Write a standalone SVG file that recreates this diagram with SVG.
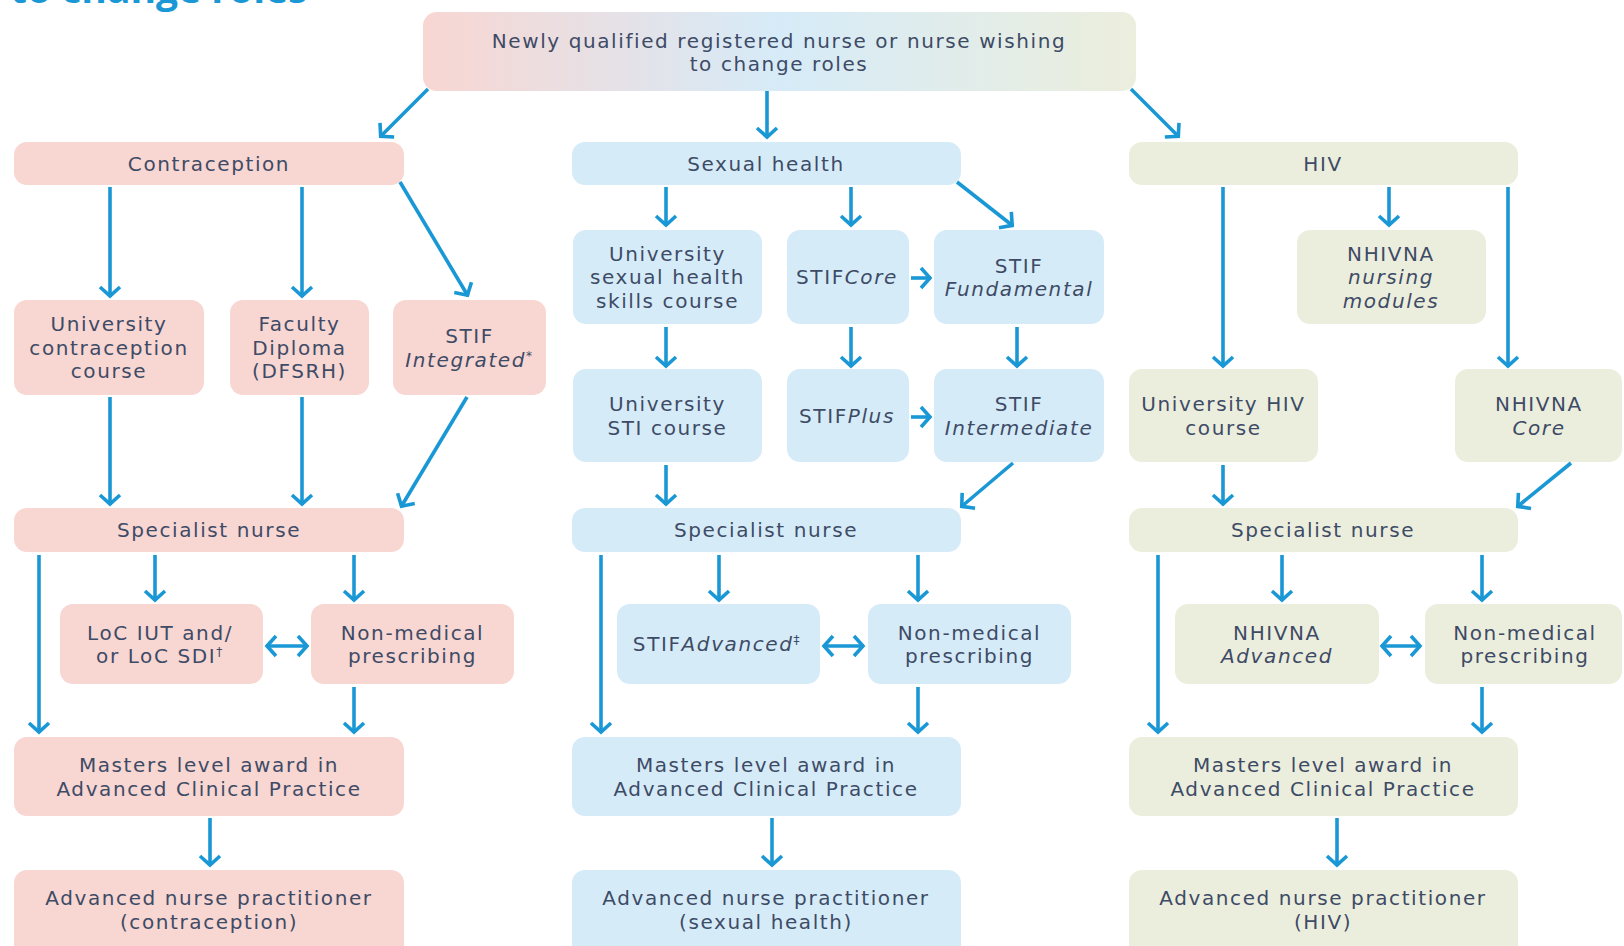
<svg xmlns="http://www.w3.org/2000/svg" width="1624" height="946" viewBox="0 0 1624 946">
<style>
.pink{fill:#f8d6d2}
.blue{fill:#d6ebf8}
.green{fill:#eceedd}
text{font-family:"DejaVu Sans","Open Sans",sans-serif;font-size:20px;letter-spacing:1.6px;fill:#3e4b66;text-anchor:middle}
.i{font-style:italic}
.title{font-family:"Open Sans","Liberation Sans",sans-serif;font-size:39px;letter-spacing:0;font-weight:bold;fill:#1a98d5;text-anchor:start}
.c line{stroke:#1a98d5;stroke-width:3.6;fill:none;marker-end:url(#ah)}
.c line.d{marker-start:url(#ah)}
</style>
<defs>
<linearGradient id="topg" x1="0" y1="0" x2="1" y2="0">
<stop offset="0" stop-color="#f8d6d2"/>
<stop offset="0.5" stop-color="#d6ebf8"/>
<stop offset="1" stop-color="#eceedd"/>
</linearGradient>
<marker id="ah" markerUnits="userSpaceOnUse" markerWidth="28" markerHeight="28" viewBox="-14 -14 28 28" refX="0" refY="0" orient="auto-start-reverse">
<path d="M-10,-10 L-1,0 L-10,10" fill="none" stroke="#1a98d5" stroke-width="3.6"/>
</marker>
</defs>
<rect width="1624" height="946" fill="#ffffff"/>
<text class="title" x="10" y="3">to change roles</text>

<g id="top"><rect x="423" y="12" width="713" height="79" rx="14" fill="url(#topg)"/>
<text x="779" y="48">Newly qualified registered nurse or nurse wishing</text><text x="779" y="71">to change roles</text></g>

<g id="contraception"><rect class="pink" x="14" y="142" width="390" height="43" rx="13"/><text x="209" y="171">Contraception</text></g>
<g id="sexualhealth"><rect class="blue" x="572" y="142" width="389" height="43" rx="13"/><text x="766" y="171">Sexual health</text></g>
<g id="hiv"><rect class="green" x="1129" y="142" width="389" height="43" rx="13"/><text x="1323" y="171">HIV</text></g>

<g id="univcontr"><rect class="pink" x="14" y="300" width="190" height="95" rx="13"/><text x="109" y="331">University</text><text x="109" y="354.5">contraception</text><text x="109" y="378">course</text></g>
<g id="faculty"><rect class="pink" x="230" y="300" width="139" height="95" rx="13"/><text x="299.5" y="331">Faculty</text><text x="299.5" y="354.5">Diploma</text><text x="299.5" y="378">(DFSRH)</text></g>
<g id="stifint"><rect class="pink" x="393" y="300" width="153" height="95" rx="13"/><text x="469.5" y="343">STIF</text><text x="469.5" y="366.5"><tspan class="i">Integrated</tspan><tspan font-size="12" dy="-7">*</tspan></text></g>

<g id="univsh"><rect class="blue" x="573" y="230" width="189" height="94" rx="13"/><text x="667.5" y="260.5">University</text><text x="667.5" y="284">sexual health</text><text x="667.5" y="307.5">skills course</text></g>
<g id="stifcore"><rect class="blue" x="787" y="230" width="122" height="94" rx="13"/><text x="847" y="284">STIF<tspan class="i">Core</tspan></text></g>
<g id="stiffund"><rect class="blue" x="934" y="230" width="170" height="94" rx="13"/><text x="1019" y="272.5">STIF</text><text x="1019" y="296" class="i">Fundamental</text></g>
<g id="univsti"><rect class="blue" x="573" y="369" width="189" height="93" rx="13"/><text x="667.5" y="411">University</text><text x="667.5" y="434.5">STI course</text></g>
<g id="stifplus"><rect class="blue" x="787" y="369" width="122" height="93" rx="13"/><text x="847" y="423">STIF<tspan class="i">Plus</tspan></text></g>
<g id="stifinter"><rect class="blue" x="934" y="369" width="170" height="93" rx="13"/><text x="1019" y="411">STIF</text><text x="1019" y="434.5" class="i">Intermediate</text></g>

<g id="nhivnamod"><rect class="green" x="1297" y="230" width="189" height="94" rx="13"/><text x="1391" y="260.5">NHIVNA</text><text x="1391" y="284" class="i">nursing</text><text x="1391" y="307.5" class="i">modules</text></g>
<g id="univhiv"><rect class="green" x="1129" y="369" width="189" height="93" rx="13"/><text x="1223.5" y="411">University HIV</text><text x="1223.5" y="434.5">course</text></g>
<g id="nhivnacore"><rect class="green" x="1455" y="369" width="167" height="93" rx="13"/><text x="1539" y="411">NHIVNA</text><text x="1539" y="434.5" class="i">Core</text></g>

<g id="spec1"><rect class="pink" x="14" y="508" width="390" height="44" rx="13"/><text x="209" y="537">Specialist nurse</text></g>
<g id="spec2"><rect class="blue" x="572" y="508" width="389" height="44" rx="13"/><text x="766" y="537">Specialist nurse</text></g>
<g id="spec3"><rect class="green" x="1129" y="508" width="389" height="44" rx="13"/><text x="1323" y="537">Specialist nurse</text></g>

<g id="loc"><rect class="pink" x="60" y="604" width="203" height="80" rx="13"/><text x="160" y="639.5">LoC IUT and/</text><text x="160" y="663">or LoC SDI<tspan font-size="12" dy="-7">†</tspan></text></g>
<g id="nmp1"><rect class="pink" x="311" y="604" width="203" height="80" rx="13"/><text x="412.5" y="639.5">Non-medical</text><text x="412.5" y="663">prescribing</text></g>
<g id="stifadv"><rect class="blue" x="617" y="604" width="203" height="80" rx="13"/><text x="717" y="651">STIF<tspan class="i">Advanced</tspan><tspan font-size="12" dy="-7">‡</tspan></text></g>
<g id="nmp2"><rect class="blue" x="868" y="604" width="203" height="80" rx="13"/><text x="969.5" y="639.5">Non-medical</text><text x="969.5" y="663">prescribing</text></g>
<g id="nhivnaadv"><rect class="green" x="1175" y="604" width="204" height="80" rx="13"/><text x="1277" y="639.5">NHIVNA</text><text x="1277" y="663" class="i">Advanced</text></g>
<g id="nmp3"><rect class="green" x="1425" y="604" width="197" height="80" rx="13"/><text x="1525" y="639.5">Non-medical</text><text x="1525" y="663">prescribing</text></g>

<g id="masters1"><rect class="pink" x="14" y="737" width="390" height="79" rx="13"/><text x="209" y="772">Masters level award in</text><text x="209" y="795.5">Advanced Clinical Practice</text></g>
<g id="masters2"><rect class="blue" x="572" y="737" width="389" height="79" rx="13"/><text x="766" y="772">Masters level award in</text><text x="766" y="795.5">Advanced Clinical Practice</text></g>
<g id="masters3"><rect class="green" x="1129" y="737" width="389" height="79" rx="13"/><text x="1323" y="772">Masters level award in</text><text x="1323" y="795.5">Advanced Clinical Practice</text></g>

<g id="anp1"><rect class="pink" x="14" y="870" width="390" height="90" rx="13"/><text x="209" y="905">Advanced nurse practitioner</text><text x="209" y="928.5">(contraception)</text></g>
<g id="anp2"><rect class="blue" x="572" y="870" width="389" height="90" rx="13"/><text x="766" y="905">Advanced nurse practitioner</text><text x="766" y="928.5">(sexual health)</text></g>
<g id="anp3"><rect class="green" x="1129" y="870" width="389" height="90" rx="13"/><text x="1323" y="905">Advanced nurse practitioner</text><text x="1323" y="928.5">(HIV)</text></g>

<g id="connectors" class="c">
<line x1="428" y1="89" x2="380" y2="137"/>
<line x1="767" y1="91" x2="767" y2="138"/>
<line x1="1131" y1="89" x2="1179" y2="137"/>
<line x1="110" y1="187" x2="110" y2="297"/>
<line x1="302" y1="187" x2="302" y2="297"/>
<line x1="400" y1="182" x2="468" y2="296"/>
<line x1="110" y1="397" x2="110" y2="505"/>
<line x1="302" y1="397" x2="302" y2="505"/>
<line x1="467" y1="397" x2="401" y2="507"/>
<line x1="155" y1="555" x2="155" y2="601"/>
<line x1="354" y1="555" x2="354" y2="601"/>
<line x1="39" y1="555" x2="39" y2="733"/>
<line class="d" x1="266" y1="646" x2="308" y2="646"/>
<line x1="354" y1="687" x2="354" y2="733"/>
<line x1="210" y1="818" x2="210" y2="866"/>
<line x1="666" y1="187" x2="666" y2="226"/>
<line x1="851" y1="187" x2="851" y2="226"/>
<line x1="957" y1="182" x2="1013" y2="226"/>
<line x1="666" y1="327" x2="666" y2="367"/>
<line x1="851" y1="327" x2="851" y2="367"/>
<line x1="1017" y1="327" x2="1017" y2="367"/>
<line x1="911" y1="278" x2="931" y2="278"/>
<line x1="911" y1="417" x2="931" y2="417"/>
<line x1="666" y1="465" x2="666" y2="505"/>
<line x1="1013" y1="463" x2="961" y2="507"/>
<line x1="719" y1="555" x2="719" y2="601"/>
<line x1="918" y1="555" x2="918" y2="601"/>
<line x1="601" y1="555" x2="601" y2="733"/>
<line class="d" x1="823" y1="646" x2="864" y2="646"/>
<line x1="918" y1="687" x2="918" y2="733"/>
<line x1="772" y1="818" x2="772" y2="866"/>
<line x1="1223" y1="187" x2="1223" y2="367"/>
<line x1="1389" y1="187" x2="1389" y2="226"/>
<line x1="1508" y1="187" x2="1508" y2="367"/>
<line x1="1223" y1="465" x2="1223" y2="505"/>
<line x1="1571" y1="463" x2="1517" y2="507"/>
<line x1="1282" y1="555" x2="1282" y2="601"/>
<line x1="1482" y1="555" x2="1482" y2="601"/>
<line x1="1158" y1="555" x2="1158" y2="733"/>
<line class="d" x1="1381" y1="646" x2="1421" y2="646"/>
<line x1="1482" y1="687" x2="1482" y2="733"/>
<line x1="1337" y1="818" x2="1337" y2="866"/>
</g>
</svg>
